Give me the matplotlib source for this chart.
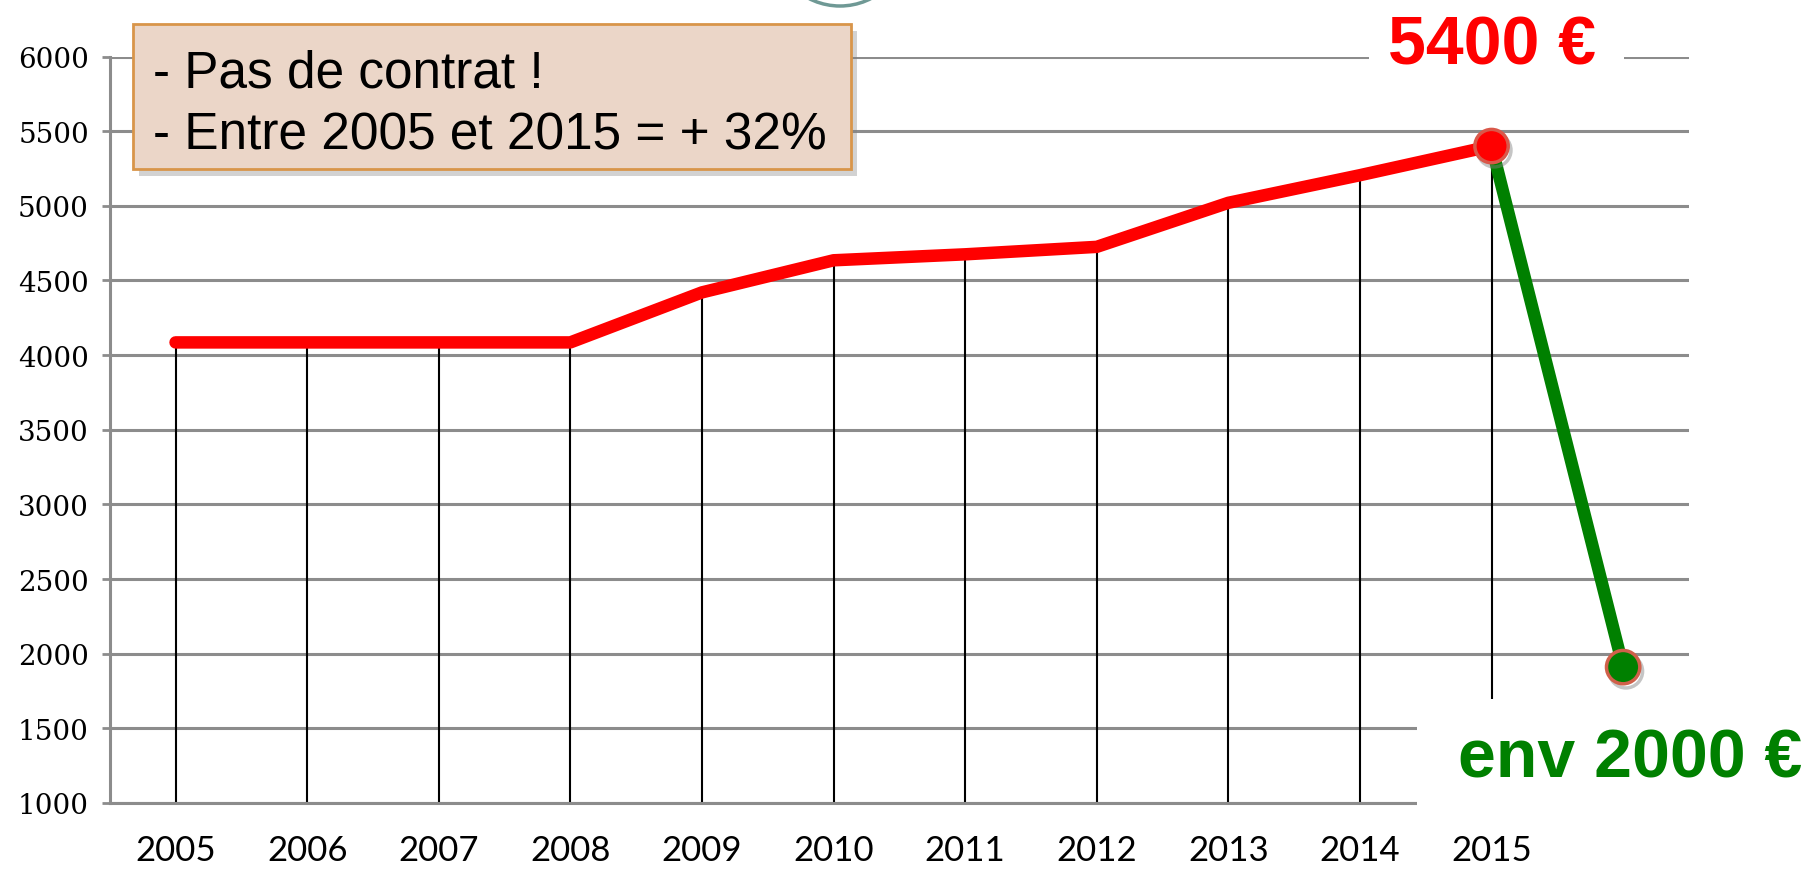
"""
Salaire annuel 2005-2015 puis chute sans contrat
"""

import matplotlib
matplotlib.use("Agg")
import matplotlib.pyplot as plt
import matplotlib.patheffects as pe
from matplotlib.patches import Rectangle, Circle, FancyBboxPatch

# Years shown on the x axis
YEARS = ["2005", "2006", "2007", "2008", "2009", "2010",
         "2011", "2012", "2013", "2014", "2015"]
# Red series: amount per year
AMOUNTS = [4085, 4085, 4085, 4085, 4420, 4635, 4675, 4725, 5020, 5205, 5400]
# Green drop: last red point to the estimated amount one slot later
DROP_X = [10, 11]
DROP_Y = [5400, 1910]
# Y axis ticks
Y_TICKS = [1000, 1500, 2000, 2500, 3000, 3500, 4000, 4500, 5000, 5500, 6000]

BOX_LINES = ["- Pas de contrat !", "- Entre 2005 et 2015 = + 32%"]
LABEL_HIGH = "5400 €"
LABEL_LOW = "env 2000 €"

GRID = "#8c8c8c"
RED = "#ff0000"
GREEN = "#008000"

fig = plt.figure(figsize=(18.11, 8.70), dpi=100)
ax = fig.add_axes([0.0606, 0.0759, 0.8720, 0.8580])

x = list(range(len(YEARS)))

# Vertical drop lines from the axis to each point
ax.vlines(x, Y_TICKS[0], AMOUNTS, color="black", lw=1.5, zorder=2)

# Lines
ax.plot(DROP_X, DROP_Y, color=GREEN, lw=9, solid_capstyle="round", zorder=3)
ax.plot(x, AMOUNTS, color=RED, lw=9, solid_capstyle="round", zorder=3)

# End markers with a soft shadow
shadow = [pe.SimpleLineShadow(offset=(2, -3), shadow_color="gray", alpha=0.45),
          pe.Normal()]
ax.plot(DROP_X[0], DROP_Y[0], "o", ms=24, mfc=RED, mec="#d9584a", mew=2.5,
        zorder=6, path_effects=shadow)
ax.plot(DROP_X[1], DROP_Y[1], "o", ms=24, mfc=GREEN, mec="#d0604a", mew=2.5,
        zorder=6, path_effects=shadow)

# Axes limits and styling
ax.set_xlim(-0.5, len(YEARS) + 0.5)
ax.set_ylim(Y_TICKS[0], Y_TICKS[-1])
ax.set_xticks(x)
ax.set_xticklabels(YEARS, family=["Lato", "DejaVu Sans"], fontsize=25)
ax.set_yticks(Y_TICKS)
ax.set_yticklabels([str(v) for v in Y_TICKS], family="DejaVu Serif",
                   fontsize=20)
ax.tick_params(axis="x", length=0, pad=22)
ax.tick_params(axis="y", length=6, width=2, color=GRID, pad=9)
ax.yaxis.grid(True, color=GRID, lw=2.2)
ax.set_axisbelow(True)
for side in ["top", "right"]:
    ax.spines[side].set_visible(False)
for side in ["left", "bottom"]:
    ax.spines[side].set_color(GRID)
    ax.spines[side].set_linewidth(2.2)

# White patches behind the big labels (they hide the grid)
last = DROP_X[0]
ax.add_patch(Rectangle((last - 0.93, 5880), 1.94, 400, fc="white",
                       ec="none", zorder=5, clip_on=False))
ax.add_patch(Rectangle((last - 0.57, 930), 2.5, 767, fc="white",
                       ec="none", zorder=5, clip_on=False))

ax.text(last, 5956, LABEL_HIGH, color=RED, fontsize=49, fontweight="bold",
        family="Liberation Sans", ha="center", va="baseline", zorder=7,
        clip_on=False)
ax.text(last - 0.255, 1174, LABEL_LOW, color=GREEN, fontsize=49,
        fontweight="bold", family="Liberation Sans", ha="left",
        va="baseline", zorder=7, clip_on=False)

# Note box in the top left corner
box = FancyBboxPatch((133 / 1811, 1 - 170 / 870), 718 / 1811, 145 / 870,
                     boxstyle="square,pad=0", transform=fig.transFigure,
                     fc="#ebd6c8", ec="#d8954a", lw=2, zorder=8,
                     path_effects=[pe.withSimplePatchShadow(
                         offset=(4, -5), shadow_rgbFace="gray", alpha=0.35)])
fig.patches.append(box)
for i, line in enumerate(BOX_LINES):
    fig.text(153 / 1811, 1 - (74 + 62 * i) / 870, line, fontsize=37,
             family="Liberation Sans", va="center", ha="left", zorder=9)

# Partial logo ring at the top edge
fig.patches.append(Circle((840, 870 + 61), 68, transform=None, fill=False,
                          ec="#6f9995", lw=2.5))

fig.savefig("out.png", dpi=100)
